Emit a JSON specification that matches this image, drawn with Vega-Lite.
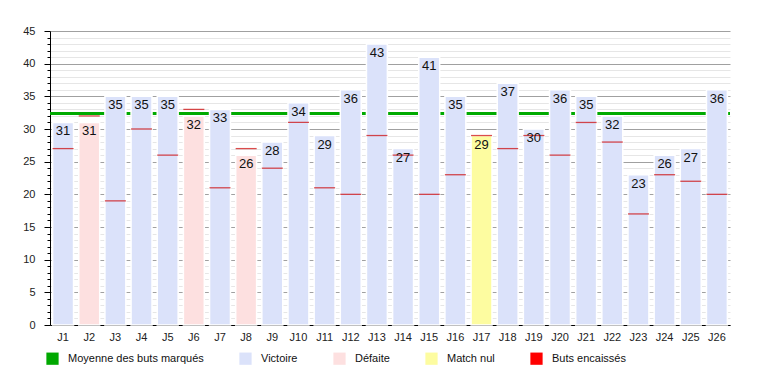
{
  "$schema": "https://vega.github.io/schema/vega-lite/v6.json",
  "width": 680,
  "height": 294,
  "autosize": "none",
  "padding": {"left": 50, "top": 31, "right": 30, "bottom": 50},
  "background": "white",
  "config": {
    "view": {"stroke": null},
    "font": "Liberation Sans",
    "axis": {"labelFont": "Liberation Sans", "labelColor": "#222", "labelFontSize": 11}
  },
  "data": {
    "values": [
      {"j": "J1", "buts": 31, "encaisses": 27, "resultat": "Victoire"},
      {"j": "J2", "buts": 31, "encaisses": 32, "resultat": "Défaite"},
      {"j": "J3", "buts": 35, "encaisses": 19, "resultat": "Victoire"},
      {"j": "J4", "buts": 35, "encaisses": 30, "resultat": "Victoire"},
      {"j": "J5", "buts": 35, "encaisses": 26, "resultat": "Victoire"},
      {"j": "J6", "buts": 32, "encaisses": 33, "resultat": "Défaite"},
      {"j": "J7", "buts": 33, "encaisses": 21, "resultat": "Victoire"},
      {"j": "J8", "buts": 26, "encaisses": 27, "resultat": "Défaite"},
      {"j": "J9", "buts": 28, "encaisses": 24, "resultat": "Victoire"},
      {"j": "J10", "buts": 34, "encaisses": 31, "resultat": "Victoire"},
      {"j": "J11", "buts": 29, "encaisses": 21, "resultat": "Victoire"},
      {"j": "J12", "buts": 36, "encaisses": 20, "resultat": "Victoire"},
      {"j": "J13", "buts": 43, "encaisses": 29, "resultat": "Victoire"},
      {"j": "J14", "buts": 27, "encaisses": 26, "resultat": "Victoire"},
      {"j": "J15", "buts": 41, "encaisses": 20, "resultat": "Victoire"},
      {"j": "J16", "buts": 35, "encaisses": 23, "resultat": "Victoire"},
      {"j": "J17", "buts": 29, "encaisses": 29, "resultat": "Match nul"},
      {"j": "J18", "buts": 37, "encaisses": 27, "resultat": "Victoire"},
      {"j": "J19", "buts": 30, "encaisses": 29, "resultat": "Victoire"},
      {"j": "J20", "buts": 36, "encaisses": 26, "resultat": "Victoire"},
      {"j": "J21", "buts": 35, "encaisses": 31, "resultat": "Victoire"},
      {"j": "J22", "buts": 32, "encaisses": 28, "resultat": "Victoire"},
      {"j": "J23", "buts": 23, "encaisses": 17, "resultat": "Victoire"},
      {"j": "J24", "buts": 26, "encaisses": 23, "resultat": "Victoire"},
      {"j": "J25", "buts": 27, "encaisses": 22, "resultat": "Victoire"},
      {"j": "J26", "buts": 36, "encaisses": 20, "resultat": "Victoire"}
    ]
  },
  "encoding": {
    "x": {
      "field": "j", "type": "nominal", "sort": null,
      "scale": {"paddingInner": 0.2, "paddingOuter": 0.1},
      "axis": {"title": null, "labelAngle": 0, "ticks": false, "domainColor": "#000", "labelPadding": 6, "grid": false}
    }
  },
  "layer": [
    {
      "mark": {"type": "rule", "color": "#00aa00", "strokeWidth": 3},
      "encoding": {
        "y": {
          "aggregate": "mean", "field": "buts", "type": "quantitative",
          "scale": {"domain": [0, 45], "nice": false},
          "axis": {
            "title": null,
            "values": [0,1,2,3,4,5,6,7,8,9,10,11,12,13,14,15,16,17,18,19,20,21,22,23,24,25,26,27,28,29,30,31,32,33,34,35,36,37,38,39,40,41,42,43,44,45],
            "labelExpr": "datum.value % 5 === 0 ? datum.label : ''",
            "gridColor": {"condition": {"test": "datum.value % 5 === 0", "value": "#a0a0a0"}, "value": "#e6e6e6"},
            "tickSize": {"condition": {"test": "datum.value % 5 === 0", "value": 6}, "value": 3},
            "tickColor": "#000", "domainColor": "#000", "labelPadding": 9, "labelOverlap": false, "grid": true
          }
        },
        "x": {"value": 0},
        "x2": {"value": 680}
      }
    },
    {
      "mark": {"type": "bar", "stroke": "white", "strokeWidth": 1.5},
      "encoding": {
        "y": {
          "field": "buts", "type": "quantitative",
          "axis": {
            "title": null,
            "values": [0,1,2,3,4,5,6,7,8,9,10,11,12,13,14,15,16,17,18,19,20,21,22,23,24,25,26,27,28,29,30,31,32,33,34,35,36,37,38,39,40,41,42,43,44,45],
            "labelExpr": "datum.value % 5 === 0 ? datum.label : ''",
            "gridColor": {"condition": {"test": "datum.value % 5 === 0", "value": "#a0a0a0"}, "value": "#e6e6e6"},
            "tickSize": {"condition": {"test": "datum.value % 5 === 0", "value": 6}, "value": 3},
            "tickColor": "#000", "domainColor": "#000", "labelPadding": 9, "labelOverlap": false, "grid": true
          }
        },
        "color": {
          "field": "resultat", "type": "nominal",
          "scale": {
            "domain": ["Moyenne des buts marqués", "Victoire", "Défaite", "Match nul", "Buts encaissés"],
            "range": ["#00a800", "#dbe2fa", "#fde0e0", "#fdfca0", "#ff0000"]
          },
          "legend": {
            "title": null, "orient": "none", "direction": "horizontal",
            "legendX": -4, "legendY": 321,
            "symbolType": "square", "symbolSize": 150, "symbolStrokeWidth": 0,
            "labelFontSize": 11, "labelFont": "Liberation Sans", "labelColor": "#111",
            "labelOffset": 9, "columnPadding": 35
          }
        }
      }
    },
    {
      "mark": {"type": "tick", "color": "#cc0000", "thickness": 1.3, "size": 21},
      "encoding": {
        "y": {
          "field": "encaisses", "type": "quantitative",
          "axis": {
            "title": null,
            "values": [0,1,2,3,4,5,6,7,8,9,10,11,12,13,14,15,16,17,18,19,20,21,22,23,24,25,26,27,28,29,30,31,32,33,34,35,36,37,38,39,40,41,42,43,44,45],
            "labelExpr": "datum.value % 5 === 0 ? datum.label : ''",
            "gridColor": {"condition": {"test": "datum.value % 5 === 0", "value": "#a0a0a0"}, "value": "#e6e6e6"},
            "tickSize": {"condition": {"test": "datum.value % 5 === 0", "value": 6}, "value": 3},
            "tickColor": "#000", "domainColor": "#000", "labelPadding": 9, "labelOverlap": false, "grid": true
          }
        }
      }
    },
    {
      "mark": {"type": "text", "baseline": "top", "dy": 3, "fontSize": 13, "color": "#111"},
      "encoding": {
        "y": {
          "field": "buts", "type": "quantitative",
          "axis": {
            "title": null,
            "values": [0,1,2,3,4,5,6,7,8,9,10,11,12,13,14,15,16,17,18,19,20,21,22,23,24,25,26,27,28,29,30,31,32,33,34,35,36,37,38,39,40,41,42,43,44,45],
            "labelExpr": "datum.value % 5 === 0 ? datum.label : ''",
            "gridColor": {"condition": {"test": "datum.value % 5 === 0", "value": "#a0a0a0"}, "value": "#e6e6e6"},
            "tickSize": {"condition": {"test": "datum.value % 5 === 0", "value": 6}, "value": 3},
            "tickColor": "#000", "domainColor": "#000", "labelPadding": 9, "labelOverlap": false, "grid": true
          }
        },
        "text": {"field": "buts", "type": "quantitative"}
      }
    }
  ]
}
